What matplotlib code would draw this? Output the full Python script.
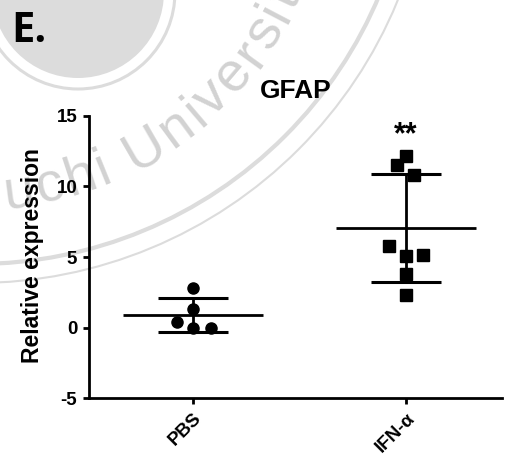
import numpy as np
import matplotlib
matplotlib.use('Agg')
import matplotlib.pyplot as plt
from matplotlib.patches import Circle

# data
groups = ['PBS', 'IFN-α']
pbs_vals = [2.78, 1.29, 0.41, -0.06, -0.06]
ifn_vals = [12.18, 11.52, 10.82, 5.78, 5.07, 5.14, 3.79, 2.30]
# horizontal spread of the points inside each group
pbs_jitter = [0, 0, -0.075, 0, 0.085]
ifn_jitter = [0, -0.04, 0.04, -0.08, 0, 0.08, 0, 0]
yticks = [-5, 0, 5, 10, 15]

plt.rcParams['font.family'] = ['Liberation Sans', 'DejaVu Sans']
plt.rcParams['axes.unicode_minus'] = False

fig = plt.figure(figsize=(5.07, 4.61), dpi=100)

# watermark in the background (pixel coordinates)
bg = fig.add_axes([0, 0, 1, 1], zorder=0)
bg.set_xlim(0, 507)
bg.set_ylim(461, 0)
bg.axis('off')
wm = '#dcdcdc'
bg.add_patch(Circle((78, -8), 86, color=wm, lw=0))
bg.add_patch(Circle((78, -8), 97, fill=False, ec=wm, lw=2.2))
bg.add_patch(Circle((-24, -173), 437, fill=False, ec=wm, lw=3))
bg.add_patch(Circle((-24, -173), 456, fill=False, ec=wm, lw=1.5))

wm_text = 'Yamaguchi University'
adv = {'Y': .667, 'a': .556, 'm': .833, 'g': .556, 'u': .556, 'c': .5, 'h': .556,
       'i': .222, ' ': .278, 'U': .722, 'n': .556, 'v': .5, 'e': .556, 'r': .333,
       's': .5, 't': .278, 'y': .5}
wm_size = 40
em = wm_size * 100 / 72
track = 2.5
cx, cy, r = -25, -145, 340
s = 0
pos = []
for ch in wm_text:
    w = adv[ch] * em
    pos.append(s + w / 2)
    s += w + track
s_u = pos[wm_text.index('U')]
th_u = np.radians(60.0)
for ch, p in zip(wm_text, pos):
    th = th_u - (p - s_u) / r
    x = cx + r * np.cos(th)
    y = cy + r * np.sin(th)
    if -40 < x < 540 and -40 < y < 500:
        bg.text(x, y, ch, fontsize=wm_size, color='#d2d2d2', ha='center', va='center',
                rotation=90 - np.degrees(th), rotation_mode='anchor', clip_on=True)

# main plot
ax = fig.add_axes([89 / 507, 63 / 461, 413 / 507, 282 / 461], zorder=1)
ax.patch.set_visible(False)

sets = [(pbs_vals, pbs_jitter, 'o', 8), (ifn_vals, ifn_jitter, 's', 8.5)]
for i, (vals, jit, mk, ms) in enumerate(sets):
    x = i + np.array(jit)
    ax.plot(x, vals, ls='none', marker=mk, ms=ms, color='black', zorder=3)
    m = np.mean(vals)
    sd = np.std(vals, ddof=1)
    ax.hlines(m, i - 0.33, i + 0.33, color='black', lw=2, zorder=2)
    ax.errorbar(i, m, yerr=sd, fmt='none', ecolor='black', elinewidth=2,
                capsize=25, capthick=2.2, zorder=2)

ax.set_xlim(-0.488, 1.451)
ax.set_ylim(-5, 15)
ax.set_yticks(yticks)
ax.set_xticks([0, 1])
ax.set_xticklabels(groups, rotation=45, ha='right', rotation_mode='anchor')
for lab in ax.get_xticklabels() + ax.get_yticklabels():
    lab.set_fontweight('bold')
    lab.set_fontsize(13.5)

ax.spines['top'].set_visible(False)
ax.spines['right'].set_visible(False)
ax.spines['left'].set_linewidth(2)
ax.spines['bottom'].set_linewidth(2)
ax.tick_params(direction='out', length=4.5, width=2, pad=4)

ax.set_title('GFAP', fontsize=19, fontweight='bold', pad=13)
ax.set_ylabel('Relative expression', fontsize=16.5, fontweight='bold')
ax.yaxis.set_label_coords(-0.108, 0.505)

ax.text(1, 13.6, '**', ha='center', va='center', fontsize=22, fontweight='bold')

fig.text(0.022, 0.909, 'E.', family=['Open Sans', 'DejaVu Sans'], weight='bold',
         fontsize=30, va='baseline')

fig.savefig('out.png', dpi=100)
